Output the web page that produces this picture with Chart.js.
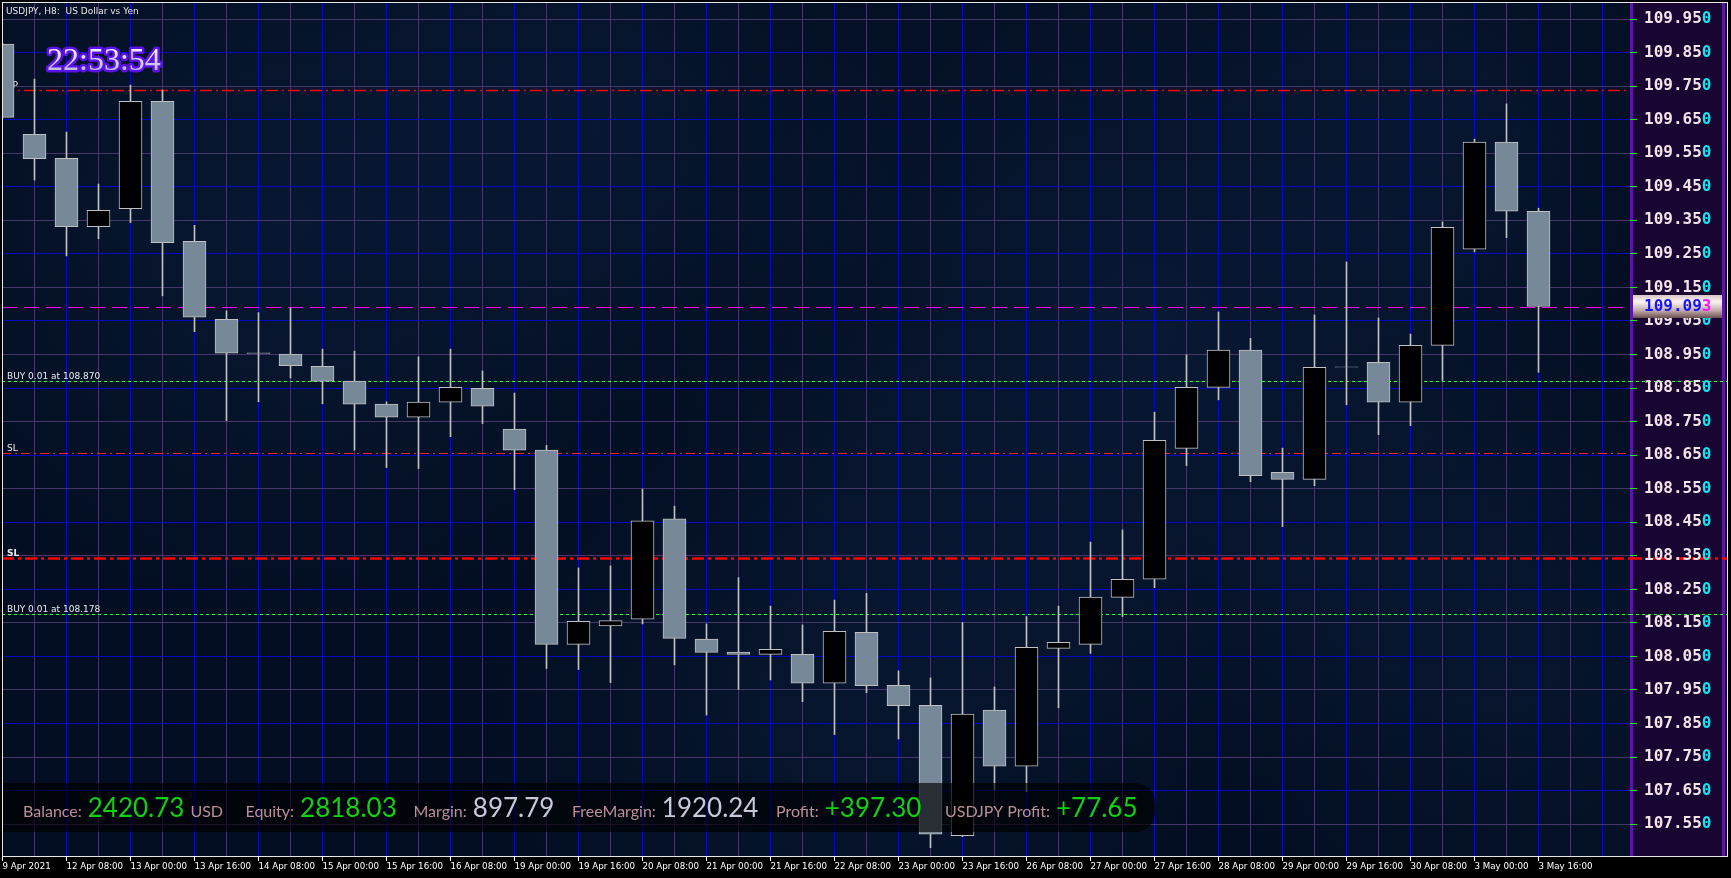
<!DOCTYPE html>
<html>
<head>
<meta charset="utf-8">
<title>USDJPY H8</title>
<script src="https://cdn.jsdelivr.net/npm/chart.js"></script>
<style>
  html, body { margin: 0; padding: 0; background: #000; overflow: hidden; }
  #wrap { width: 1731px; height: 878px; }
</style>
</head>
<body>
<div id="wrap"><canvas id="chart" width="1731" height="878"></canvas></div>
<script>
// H8 candles, 9 Apr 2021 16:00 .. 3 May 16:00
const opens  = [109.875,109.606,109.535,109.331,109.385,109.705,109.287,109.055,108.955,108.951,
                108.915,108.871,108.802,108.763,108.808,108.849,108.728,108.665,108.086,108.141,
                108.161,108.460,108.102,108.063,108.056,108.056,107.970,108.122,107.964,107.904,
                107.516,107.890,107.723,108.074,108.086,108.226,108.280,108.670,108.852,108.963,
                108.599,108.578,108.913,108.927,108.808,108.977,109.264,109.583,109.377];
const highs  = [109.878,109.771,109.613,109.458,109.753,109.738,109.335,109.080,109.075,109.089,
                108.966,108.960,108.809,108.943,108.966,108.901,108.835,108.679,108.314,108.320,
                108.549,108.498,108.147,108.285,108.200,108.144,108.218,108.238,108.007,107.986,
                108.151,107.959,108.169,108.200,108.391,108.427,108.778,108.949,109.077,108.998,
                108.671,109.068,109.226,109.059,109.011,109.345,109.592,109.697,109.386];
const lows   = [109.654,109.470,109.244,109.295,109.343,109.125,109.018,108.753,108.809,108.880,
                108.803,108.665,108.613,108.610,108.705,108.744,108.547,108.014,108.011,107.972,
                108.147,108.025,107.875,107.952,107.980,107.915,107.817,107.942,107.804,107.480,
                107.513,107.652,107.647,107.897,108.059,108.169,108.255,108.619,108.815,108.571,
                108.437,108.559,108.800,108.711,108.738,108.873,109.256,109.298,108.897];
const closes = [109.657,109.534,109.331,109.380,109.705,109.283,109.061,108.954,108.953,108.917,
                108.870,108.802,108.763,108.808,108.852,108.796,108.665,108.086,108.155,108.157,
                108.454,108.104,108.062,108.056,108.071,107.970,108.125,107.963,107.903,107.520,
                107.878,107.723,108.077,108.092,108.227,108.280,108.694,108.852,108.963,108.589,
                108.578,108.912,108.912,108.808,108.977,109.329,109.583,109.377,109.093];

// one label every second bar (bar 0, 2, 4 ...)
const xLabels = ['9 Apr 2021','12 Apr 08:00','13 Apr 00:00','13 Apr 16:00','14 Apr 08:00',
                 '15 Apr 00:00','15 Apr 16:00','16 Apr 08:00','19 Apr 00:00','19 Apr 16:00',
                 '20 Apr 08:00','21 Apr 00:00','21 Apr 16:00','22 Apr 08:00','23 Apr 00:00',
                 '23 Apr 16:00','26 Apr 08:00','27 Apr 00:00','27 Apr 16:00','28 Apr 08:00',
                 '29 Apr 00:00','29 Apr 16:00','30 Apr 08:00','3 May 00:00','3 May 16:00'];
const yTicks = [107.55,107.65,107.75,107.85,107.95,108.05,108.15,108.25,108.35,108.45,
                108.55,108.65,108.75,108.85,108.95,109.05,109.15,109.25,109.35,109.45,
                109.55,109.65,109.75,109.85,109.95];

// order / stop lines
const levelPrices = [109.737, 109.093, 108.870, 108.655, 108.344, 108.178];
const levelNames  = ['TP', '', 'BUY 0.01 at 108.870', 'SL', 'SL', 'BUY 0.01 at 108.178'];
const bidPrice = 109.093;
const clockText = '22:53:54';
const accountLabels = ['Balance:', 'Equity:', 'Margin:', 'FreeMargin:', 'Profit:', 'USDJPY Profit:'];
const accountValues = ['2420.73', '2818.03', '897.79', '1920.24', '+397.30', '+77.65'];

const GRID_BLUE = '#0808c4';
const GRID_PURPLE = '#46376a';
const MONO = '"DejaVu Sans Mono", monospace';

const idx = opens.map((_, i) => i);
const gridIdx = Array.from({ length: 51 }, (_, i) => i);
const bodies = idx.map(i => ({ x: i, y: [opens[i], closes[i]] }));
const wicks = idx.map(i => ({ x: i, y: [lows[i], highs[i]] }));
const bodyFill = idx.map(i => closes[i] > opens[i] ? '#000000' : '#778899');

function levelLine(ctx, y, x0, x1, color, width, dash) {
  ctx.save();
  ctx.strokeStyle = color;
  ctx.lineWidth = width;
  ctx.setLineDash(dash);
  ctx.beginPath();
  ctx.moveTo(x0, y);
  ctx.lineTo(x1, y);
  ctx.stroke();
  ctx.restore();
}

const levelStyle = [
  { color: '#ff0000', width: 1.5, dash: [12, 4, 2, 4], ext: false },
  { color: '#ff00ff', width: 1, dash: [15, 7], ext: false },
  { color: '#30ff30', width: 1, dash: [3, 3], ext: true },
  { color: '#ff2020', width: 1, dash: [9, 4, 2, 4], ext: false },
  { color: '#ff0000', width: 2.5, dash: [12, 4, 3, 4], ext: true },
  { color: '#30ff30', width: 1, dash: [3, 3], ext: true }
];

const decor = {
  id: 'decor',
  beforeDraw(chart) {
    const { ctx, chartArea: a } = chart;
    const y = chart.scales.y;
    ctx.save();
    ctx.fillStyle = '#000';
    ctx.fillRect(0, 0, chart.width, chart.height);
    // plot background
    ctx.fillStyle = '#030e22';
    ctx.fillRect(a.left, a.top, a.right - a.left, a.bottom - a.top);
    const spots = [[300, 220, 420, 0.18], [620, 120, 300, 0.14], [1150, 330, 480, 0.2],
                   [850, 700, 380, 0.15], [1500, 650, 320, 0.14], [1450, 120, 260, 0.12]];
    ctx.beginPath();
    ctx.rect(a.left, a.top, a.right - a.left, a.bottom - a.top);
    ctx.clip();
    spots.forEach(s => {
      const g = ctx.createRadialGradient(s[0], s[1], 0, s[0], s[1], s[2]);
      g.addColorStop(0, 'rgba(30,70,125,' + s[3] + ')');
      g.addColorStop(1, 'rgba(30,70,125,0)');
      ctx.fillStyle = g;
      ctx.fillRect(a.left, a.top, a.right - a.left, a.bottom - a.top);
    });
    ctx.restore();
    // price scale background
    ctx.save();
    ctx.fillStyle = '#190531';
    ctx.fillRect(a.right, a.top, 97, a.bottom - a.top);
    ctx.fillStyle = '#5a16a4';
    ctx.fillRect(a.right, a.top, 3, a.bottom - a.top);
    ctx.fillRect(a.right + 92, a.top, 3, a.bottom - a.top);
    // lines continuing over the price scale
    levelPrices.forEach((p, k) => {
      const st = levelStyle[k];
      if (!st.ext) return;
      const py = Math.round(y.getPixelForValue(p)) + 0.5;
      levelLine(ctx, py, a.right, a.right + 97, st.color, st.width, st.dash);
    });
    ctx.restore();
  },
  beforeDatasetsDraw(chart) {
    const { ctx, chartArea: a } = chart;
    const y = chart.scales.y;
    ctx.save();
    levelPrices.forEach((p, k) => {
      const st = levelStyle[k];
      const py = Math.round(y.getPixelForValue(p)) + 0.5;
      levelLine(ctx, py, a.left, a.right, st.color, st.width, st.dash);
      if (levelNames[k]) {
        ctx.fillStyle = '#ececec';
        ctx.font = (k === 4 ? 'bold ' : '') + '9px "DejaVu Sans"';
        ctx.textBaseline = 'alphabetic';
        ctx.fillText(levelNames[k], 7, py - 3);
      }
    });
    ctx.restore();
  },
  afterDatasetsDraw(chart) {
    const { ctx } = chart;
    ctx.save();
    // account panel
    ctx.fillStyle = 'rgba(0,0,0,0.66)';
    ctx.beginPath();
    ctx.roundRect(3, 783, 1152, 49, [0, 20, 20, 0]);
    ctx.fill();
    const groupX = [23, 245.5, 413.5, 572, 776, 945];
    const valueColors = ['#12d012', '#12d012', '#c8c8da', '#c8c8da', '#12d012', '#12d012'];
    const base = 817;
    ctx.textBaseline = 'alphabetic';
    accountLabels.forEach((lab, k) => {
      let x = groupX[k];
      ctx.font = '16px Lato';
      ctx.fillStyle = '#bd8f99';
      ctx.fillText(lab, x, base);
      x += ctx.measureText(lab).width + 6;
      ctx.font = '26px Lato';
      ctx.fillStyle = valueColors[k];
      ctx.fillText(accountValues[k], x, base);
      if (k === 0) {
        x += ctx.measureText(accountValues[k]).width + 6;
        ctx.font = '16px Lato';
        ctx.fillStyle = '#bd8f99';
        ctx.fillText('USD', x, base);
      }
    });
    // clock
    ctx.font = '32px "Liberation Serif"';
    ctx.lineJoin = 'round';
    ctx.lineWidth = 5;
    ctx.strokeStyle = '#5a12e6';
    ctx.strokeText(clockText, 47, 70);
    const g = ctx.createLinearGradient(0, 48, 0, 71);
    g.addColorStop(0, '#f6f2ff');
    g.addColorStop(1, '#bcb6e2');
    ctx.fillStyle = g;
    ctx.fillText(clockText, 47, 70);
    // title
    ctx.font = '9px "DejaVu Sans"';
    ctx.fillStyle = '#e6e6e6';
    ctx.fillText('USDJPY, H8:  US Dollar vs Yen', 6, 14);
    ctx.restore();
  },
  afterDraw(chart) {
    const { ctx, chartArea: a } = chart;
    const y = chart.scales.y;
    const lx = y.left + 14;
    ctx.save();
    ctx.font = 'bold 16px ' + MONO;
    ctx.textBaseline = 'middle';
    ctx.textAlign = 'left';
    ctx.fillStyle = '#12e4f0';
    yTicks.forEach(v => {
      const t = v.toFixed(2);
      ctx.fillText('0', lx + ctx.measureText(t).width, y.getPixelForValue(v));
    });
    // bid price box
    const py = y.getPixelForValue(bidPrice);
    const top = Math.round(py - 11.5);
    const g = ctx.createLinearGradient(0, top, 0, top + 23);
    g.addColorStop(0, '#d8c6c6');
    g.addColorStop(0.3, '#fbf3f3');
    g.addColorStop(0.7, '#bca4a4');
    g.addColorStop(1, '#6a5050');
    ctx.fillStyle = g;
    ctx.fillRect(a.right + 3, top, 89, 23);
    const bidTxt = bidPrice.toFixed(3);
    const head = bidTxt.slice(0, -1);
    ctx.fillStyle = '#1414ff';
    ctx.fillText(head, lx, py);
    ctx.fillStyle = '#ff14ff';
    ctx.fillText(bidTxt.slice(-1), lx + ctx.measureText(head).width, py);
    // frame
    ctx.strokeStyle = '#e8e8e8';
    ctx.lineWidth = 1;
    ctx.strokeRect(2.5, 2.5, 1725, 854);
    ctx.restore();
  }
};

new Chart(document.getElementById('chart'), {
  type: 'bar',
  data: {
    datasets: [
      {
        label: 'body',
        data: bodies,
        backgroundColor: bodyFill,
        borderColor: '#c0c0c0',
        borderWidth: 1,
        borderSkipped: false,
        barThickness: 23,
        grouped: false
      },
      {
        label: 'wick',
        data: wicks,
        backgroundColor: '#c0c0c0',
        borderWidth: 0,
        barThickness: 1,
        grouped: false
      }
    ]
  },
  options: {
    responsive: false,
    animation: false,
    devicePixelRatio: 1,
    layout: { padding: { left: 2, top: 2, right: 4, bottom: 0 } },
    plugins: { legend: { display: false }, tooltip: { enabled: false } },
    scales: {
      x: {
        type: 'linear',
        min: -0.015625,
        max: 50.859375,
        offset: false,
        afterBuildTicks: axis => { axis.ticks = gridIdx.map(v => ({ value: v })); },
        afterFit: s => { s.height = 22; s.paddingLeft = 0; s.paddingRight = 0; },
        grid: {
          offset: false,
          color: c => c.index % 2 ? GRID_PURPLE : GRID_BLUE,
          lineWidth: 1,
          tickLength: 5,
          tickColor: c => (c.index % 2 === 0 && c.index / 2 < xLabels.length) ? '#ffffff' : 'rgba(0,0,0,0)'
        },
        border: { display: true, color: '#ffffff', width: 1 },
        ticks: {
          autoSkip: false,
          maxRotation: 0,
          align: 'start',
          padding: 1,
          color: '#ffffff',
          font: { family: '"DejaVu Sans"', size: 8.7 },
          callback: v => (v % 2 === 0 && v / 2 < xLabels.length) ? xLabels[v / 2] : ''
        }
      },
      y: {
        position: 'right',
        min: 107.4552,
        max: 110.0007,
        afterBuildTicks: axis => { axis.ticks = yTicks.map(v => ({ value: v })); },
        afterFit: s => { s.width = 97; s.paddingTop = 0; s.paddingBottom = 0; },
        grid: {
          color: c => c.index % 2 ? GRID_BLUE : GRID_PURPLE,
          lineWidth: 1,
          tickLength: 7,
          tickColor: '#22e622'
        },
        border: { display: false },
        ticks: {
          padding: 7,
          color: '#f3e2e8',
          font: { family: MONO, size: 16, weight: 'bold' },
          callback: v => v.toFixed(2)
        }
      }
    }
  },
  plugins: [decor]
});
</script>
</body>
</html>
